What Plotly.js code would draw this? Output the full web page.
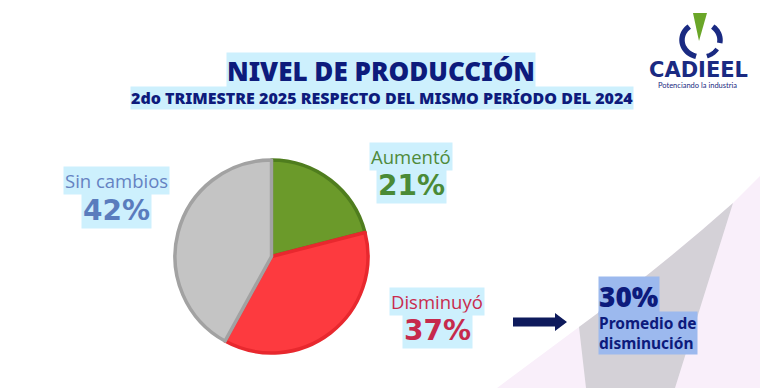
<!DOCTYPE html>
<html>
<head>
<meta charset="utf-8">
<script src="https://cdn.plot.ly/plotly-3.0.1.min.js"></script>
<style>html,body{margin:0;padding:0;background:#fff;}#chart{width:760px;height:388px;}</style>
</head>
<body>
<div id="chart"></div>
<script>
// ---- data ----
const categories = ['Aumentó', 'Disminuyó', 'Sin cambios'];
const shares = [21, 37, 42];
const averageDecrease = 30;
const averageLabel = ['Promedio de', 'disminución'];
const titleText = 'NIVEL DE PRODUCCIÓN';
const subtitleText = '2do TRIMESTRE 2025 RESPECTO DEL MISMO PERÍODO DEL 2024';

// ---- styles ----
const sliceFill = ['#6b9a2a', '#fd3a3f', '#c4c4c4'];
const sliceLine = ['#4f7d1e', '#e8282e', '#a2a2a2'];
const labelColor = ['#4f8a3a', '#c92b4e', '#6582c2'];
const pctColor = ['#4a8a36', '#c62a4c', '#5a7cbd'];
const labelPos = [[411, 156], [437, 301], [116, 180]];
const pctPos = [[411, 185], [437, 330], [116, 210]];
const navy = '#0d1b7c';
const hl = '#cdf0fd';

const W = 760, H = 388;

const pie = {
  type: 'pie',
  values: shares,
  labels: categories,
  sort: false,
  direction: 'clockwise',
  rotation: 0,
  textinfo: 'none',
  hoverinfo: 'none',
  showlegend: false,
  marker: {colors: sliceFill, line: {color: sliceLine, width: 3.5}},
  domain: {x: [175 / W, 368 / W], y: [1 - 353 / H, 1 - 160 / H]}
};

const annotations = [];
function ann(text, x, y, font, extra) {
  annotations.push(Object.assign({
    text: text, x: x, y: y, xref: 'x', yref: 'y', showarrow: false,
    xanchor: 'center', yanchor: 'middle', font: font, bgcolor: hl, borderpad: 1
  }, extra || {}));
}

ann(titleText, 381, 71, {family: 'Noto Sans', size: 26, color: navy, weight: 900}, {borderpad: 0});
ann(subtitleText, 382, 98, {family: 'Noto Sans', size: 16, color: navy, weight: 900}, {borderpad: 0});

categories.forEach((c, i) => {
  ann(c, labelPos[i][0], labelPos[i][1], {family: 'Open Sans', size: 18.5, color: labelColor[i]});
  ann(shares[i] + '%', pctPos[i][0], pctPos[i][1], {family: 'DejaVu Sans', size: 28, color: pctColor[i], weight: 700});
});

ann(averageDecrease + '%', 598, 296, {family: 'Noto Sans', size: 28, color: navy, weight: 900}, {xanchor: 'left', bgcolor: '#9cb9ee', borderpad: 0});
ann(averageLabel.join('<br>'), 598, 333, {family: 'Noto Sans', size: 15.5, color: navy, weight: 700}, {xanchor: 'left', align: 'left', bgcolor: '#9cb9ee', borderpad: 0});

// logo text
ann('CADIEEL', 698, 70, {family: 'DejaVu Sans', size: 21, color: '#1a2a82', weight: 700}, {bgcolor: 'rgba(0,0,0,0)'});
ann('Potenciando la industria', 697, 85, {family: 'Lato', size: 7.5, color: '#1a2a82'}, {bgcolor: 'rgba(0,0,0,0)'});

// ---- decoration shapes ----
function arcPath(cx, cy, rx, ry, a0, a1) {
  let p = '';
  const n = 24;
  for (let k = 0; k <= n; k++) {
    const a = (a0 + (a1 - a0) * k / n) * Math.PI / 180;
    const x = cx + rx * Math.sin(a), y = cy - ry * Math.cos(a);
    p += (k === 0 ? 'M' : 'L') + x.toFixed(2) + ',' + y.toFixed(2) + ' ';
  }
  return p;
}
const shapes = [
  // lavender background
  {type: 'path', xref: 'x', yref: 'y', layer: 'below', line: {width: 0}, fillcolor: '#f9effa',
   path: 'M497,388 L579,327 Q660,268 733,203 L760,176 L760,388 Z'},
  // gray band
  {type: 'path', xref: 'x', yref: 'y', layer: 'below', line: {width: 0}, fillcolor: '#d4d1d7',
   path: 'M586,388 L579,327 Q660,268 733,203 L675,388 Z'},
  // arrow
  {type: 'path', xref: 'x', yref: 'y', line: {width: 0}, fillcolor: '#0e1a5c',
   path: 'M513,317.5 L555,317.5 L555,313 L567,322 L555,331 L555,326.5 L513,326.5 Z'},
  // logo ring arcs
  {type: 'path', xref: 'x', yref: 'y', line: {color: '#1a2a82', width: 5.5}, path: arcPath(701, 40, 19, 17, 195, 322)},
  {type: 'path', xref: 'x', yref: 'y', line: {color: '#1a2a82', width: 5.5}, path: arcPath(701, 40, 19, 17, 38, 100)},
  {type: 'path', xref: 'x', yref: 'y', line: {color: '#1a2a82', width: 4.5}, path: arcPath(701, 40, 19, 17, 122, 162)},
  // green triangle
  {type: 'path', xref: 'x', yref: 'y', line: {width: 0}, fillcolor: '#6aa628',
   path: 'M693,13 L707,13 L699,41 Z'}
];

const layout = {
  width: W, height: H,
  margin: {l: 0, r: 0, t: 0, b: 0},
  paper_bgcolor: '#ffffff', plot_bgcolor: 'rgba(0,0,0,0)',
  xaxis: {range: [0, W], visible: false, fixedrange: true},
  yaxis: {range: [H, 0], visible: false, fixedrange: true},
  showlegend: false,
  annotations: annotations,
  shapes: shapes
};

Plotly.newPlot('chart', [pie], layout, {staticPlot: true, displayModeBar: false});
</script>
</body>
</html>
